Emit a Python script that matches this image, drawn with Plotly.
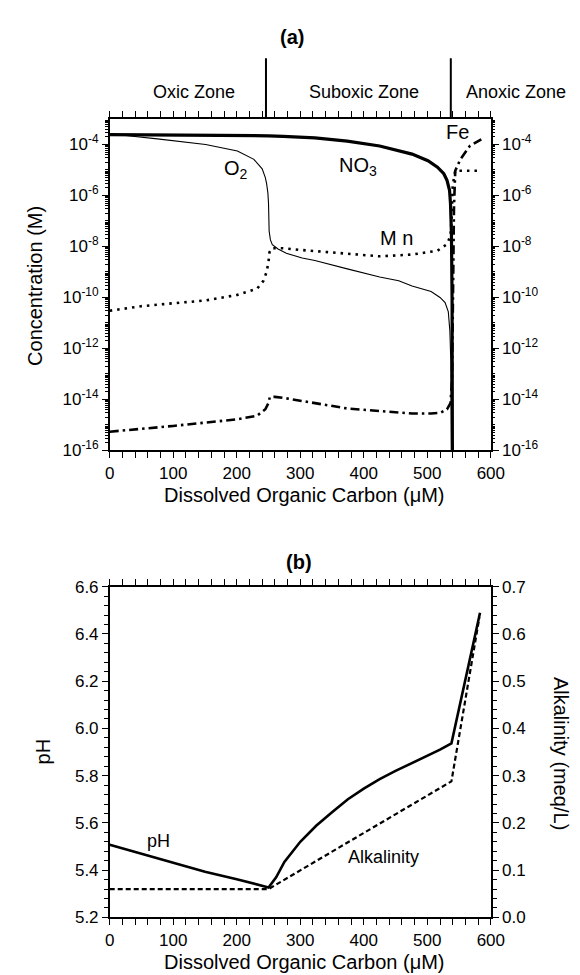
import plotly.graph_objects as go

# ---------------- Panel (a) data : concentrations (M) vs DOC (uM) ----------------
doc_no3 = [0, 150, 250, 273, 323, 374, 425, 476, 501, 516, 526, 531, 535, 536.5, 538, 539, 539.5]
no3 = [2.45e-4, 2.34e-4, 2.19e-4, 2.09e-4, 1.82e-4, 1.35e-4, 8.7e-5, 4.2e-5, 2.3e-5, 1.29e-5,
       7.1e-6, 3.9e-6, 1.6e-6, 4.9e-7, 3.2e-8, 1e-10, 1e-16]

doc_o2 = [0, 25, 75, 151, 201, 227, 240, 245, 247, 249, 250, 251, 253, 256, 265, 278, 303, 323,
          374, 425, 455, 476, 506, 520, 528, 533, 535.5, 537, 538]
o2 = [2.45e-4, 2.24e-4, 1.66e-4, 1.0e-4, 5.5e-5, 2.6e-5, 1.1e-5, 5.0e-6, 2.9e-6, 1.26e-6, 4.9e-7,
      4.0e-8, 1.8e-8, 1.17e-8, 7.9e-9, 5.4e-9, 3.5e-9, 2.8e-9, 1.32e-9, 6.3e-10, 4.5e-10, 2.8e-10,
      1.7e-10, 1.0e-10, 6.3e-11, 2.8e-11, 5.0e-12, 3.2e-13, 1e-16]

doc_mn = [0, 49, 100, 151, 201, 232, 242, 247, 250, 251.5, 255, 273, 303, 374, 425, 476, 516, 531,
          536.5, 538.5, 540, 544, 582]
mn = [3.0e-11, 4.5e-11, 5.9e-11, 7.6e-11, 1.26e-10, 2.2e-10, 4.5e-10, 1.0e-9, 2.5e-9, 5.9e-9,
      8.5e-9, 8.5e-9, 7.2e-9, 5.0e-9, 4.1e-9, 4.8e-9, 6.8e-9, 1.23e-8, 2.6e-8, 1.6e-7, 2.5e-6,
      9.3e-6, 9.3e-6]

doc_fe = [0, 100, 201, 232, 245, 250, 252, 260, 273, 303, 323, 374, 425, 476, 506, 521, 531, 536.5,
          539, 540.5, 542, 544, 552, 567, 585]
fe = [5.4e-16, 9.1e-16, 1.66e-15, 2.3e-15, 4.1e-15, 7.2e-15, 1.23e-14, 1.26e-14, 1.15e-14, 8.5e-15,
      7.2e-15, 4.4e-15, 3.5e-15, 2.8e-15, 2.8e-15, 3.0e-15, 4.1e-15, 7.2e-15, 6.3e-14, 3.2e-10,
      3.2e-7, 9.3e-6, 2.6e-5, 8.7e-5, 1.6e-4]

# ---------------- Panel (b) data ----------------
doc_ph = [0, 50, 100, 150, 200, 250, 262, 275, 300, 325, 350, 375, 400, 425, 450, 475, 500, 520, 538, 583]
ph = [5.508, 5.47, 5.431, 5.393, 5.362, 5.327, 5.37, 5.435, 5.52, 5.588, 5.645, 5.70, 5.745, 5.785,
      5.82, 5.852, 5.882, 5.91, 5.937, 6.49]

doc_alk = [0, 250, 538, 582]
alk = [0.06, 0.06, 0.288, 0.635]

# tick labels
log_tickvals = [1e-4, 1e-6, 1e-8, 1e-10, 1e-12, 1e-14, 1e-16]
log_ticktext = ["10<sup>-4</sup>", "10<sup>-6</sup>", "10<sup>-8</sup>", "10<sup>-10</sup>",
                "10<sup>-12</sup>", "10<sup>-14</sup>", "10<sup>-16</sup>"]
zone_labels = ["Oxic Zone", "Suboxic Zone", "Anoxic Zone"]
zone_bounds = [246, 537]

W, H = 580, 975
FONT = "Liberation Sans"


def px(x):
    return x / W


def py(y):
    return 1 - y / H


xd = [px(100), px(494)]
ya = [py(442), py(104)]
yb = [py(918.3), py(581)]

# minor tick positions on the log axis (1..9 per decade)
minor_log = [m * 10.0 ** e for e in range(-16, -3) for m in range(1, 10)]

fig = go.Figure()
blk = "black"
fig.add_trace(go.Scatter(x=doc_o2, y=o2, mode="lines", line=dict(color=blk, width=1.1),
                         xaxis="x", yaxis="y"))
fig.add_trace(go.Scatter(x=doc_no3, y=no3, mode="lines", line=dict(color=blk, width=3.2),
                         xaxis="x", yaxis="y"))
fig.add_trace(go.Scatter(x=doc_mn, y=mn, mode="lines", line=dict(color=blk, width=2.6, dash="2.5px,5px"),
                         xaxis="x", yaxis="y"))
fig.add_trace(go.Scatter(x=doc_fe, y=fe, mode="lines", line=dict(color=blk, width=2.6, dash="9px,4px,2.5px,4px"),
                         xaxis="x", yaxis="y"))
fig.add_trace(go.Scatter(x=doc_ph, y=ph, mode="lines", line=dict(color=blk, width=2.6),
                         xaxis="x2", yaxis="y3"))
fig.add_trace(go.Scatter(x=doc_alk, y=alk, mode="lines", line=dict(color=blk, width=2.2, dash="5px,3px"),
                         xaxis="x2", yaxis="y4"))
# invisible carriers so the tick-only axes get drawn
for ax in ["y2", "y5", "y6"]:
    fig.add_trace(go.Scatter(x=[None], y=[None], mode="lines", xaxis="x", yaxis=ax,
                             hoverinfo="skip", showlegend=False))

tickfont = dict(family=FONT, size=17, color=blk)
common = dict(showline=True, linecolor=blk, linewidth=1.5, ticks="outside", ticklen=6, tickwidth=1.2,
              tickcolor=blk, showgrid=False, zeroline=False, tickfont=tickfont)
minor_style = dict(ticks="outside", ticklen=4, tickcolor=blk, tickwidth=1.1)

xcommon = dict(common, range=[0, 600], dtick=100, tick0=0, mirror="allticks",
               minor=dict(minor_style, dtick=20))

logcommon = dict(common, type="log", range=[-16, -3], tickmode="array", tickvals=log_tickvals,
                 ticktext=log_ticktext)

logminor = dict(type="log", range=[-16, -3], tickmode="array", tickvals=minor_log,
                showticklabels=False, ticks="outside", ticklen=3.5, tickwidth=1, tickcolor=blk,
                showline=False, showgrid=False, zeroline=False, overlaying="y", anchor="x")

fig.update_layout(
    width=W, height=H, margin=dict(l=0, r=0, t=0, b=0),
    paper_bgcolor="white", plot_bgcolor="white", showlegend=False,
    xaxis=dict(xcommon, domain=xd, anchor="y"),
    yaxis=dict(logcommon, domain=ya, anchor="x", side="left"),
    yaxis2=dict(logcommon, overlaying="y", anchor="x", side="right"),
    yaxis5=dict(logminor, side="left"),
    yaxis6=dict(logminor, side="right"),
    xaxis2=dict(xcommon, domain=xd, anchor="y3"),
    yaxis3=dict(common, domain=yb, anchor="x2", side="left", range=[5.2, 6.6], dtick=0.2, tick0=5.2,
                tickformat=".1f", minor=dict(minor_style, dtick=0.04)),
    yaxis4=dict(common, overlaying="y3", anchor="x2", side="right", range=[0, 0.7], dtick=0.1, tick0=0,
                tickformat=".1f", minor=dict(minor_style, dtick=0.02)),
)

# zone boundary lines above panel (a)
for b in zone_bounds:
    fig.add_shape(type="line", xref="x", yref="paper", x0=b, x1=b, y0=py(104), y1=py(42),
                  line=dict(color=blk, width=2))


def ann(text, x, y, size, bold=False, angle=0):
    fig.add_annotation(text=f"<b>{text}</b>" if bold else text, xref="paper", yref="paper",
                       x=px(x), y=py(y), xanchor="center", yanchor="middle", showarrow=False,
                       textangle=angle, font=dict(family=FONT, size=size, color=blk))


ann("(a)", 288, 20, 20, bold=True)
ann("(b)", 296, 556, 20, bold=True)
for lab, xc in zip(zone_labels, [187, 363, 520]):
    ann(lab, xc, 77, 18)

ann("Dissolved Organic Carbon (μM)", 301, 487, 20)
ann("Dissolved Organic Carbon (μM)", 301, 964, 20)
ann("Concentration (M)", 22, 274, 20, angle=-90)
ann("pH", 31, 749, 20, angle=-90)
ann("Alkalinity (meq/L)", 566, 751, 20, angle=90)

# curve labels
ann("O<sub>2</sub>", 231, 156, 20)
ann("NO<sub>3</sub>", 357, 152, 20)
ann("M n", 396, 225, 20)
ann("Fe", 460, 117, 20)
ann("pH", 150, 840, 18)
ann("Alkalinity", 383, 857, 18)

fig.write_html("out.html")
